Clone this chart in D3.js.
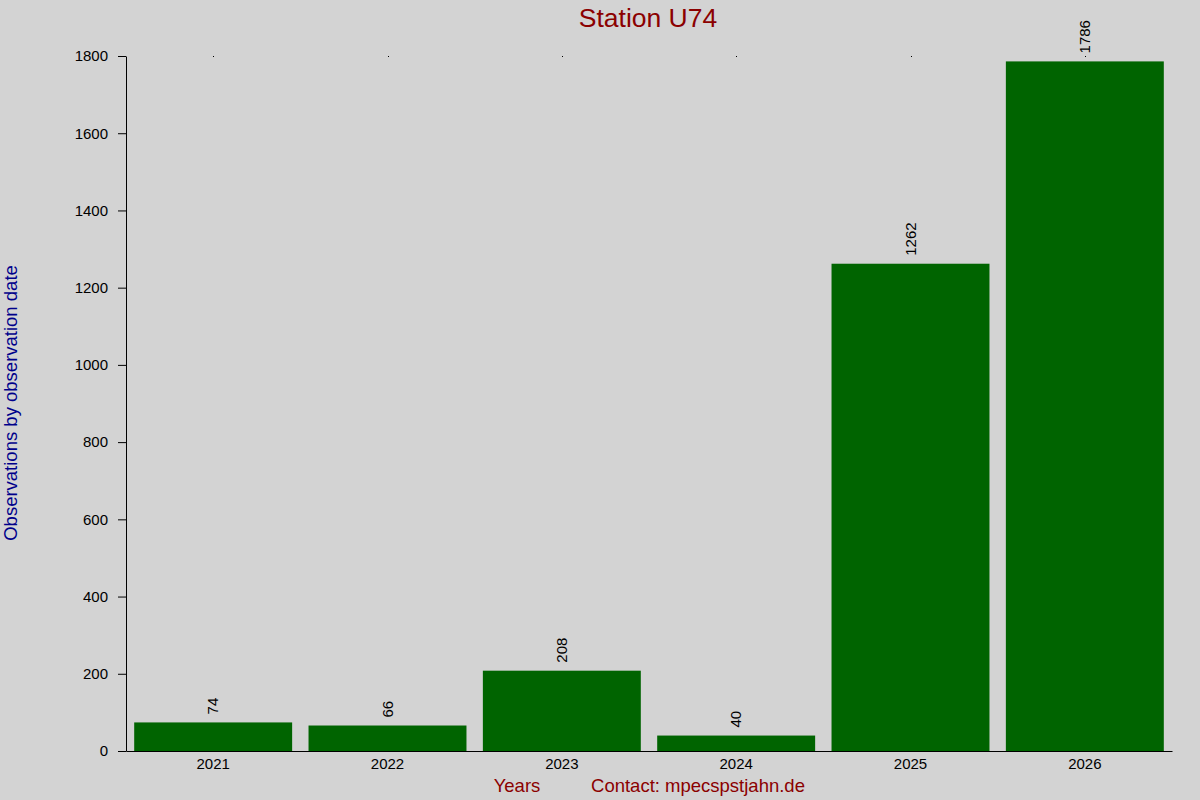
<!DOCTYPE html>
<html>
<head>
<meta charset="utf-8">
<script src="https://cdn.jsdelivr.net/npm/d3@7"></script>
<style>
    body { margin: 0; background: #d3d3d3; }
    svg { display: block; font-family: "Liberation Sans", Arial, sans-serif; }
</style>
</head>
<body>
<script>
(function () {
    "use strict";

    // chart data
    var years = ["2021", "2022", "2023", "2024", "2025", "2026"];
    var counts = [74, 66, 208, 40, 1262, 1786];
    var yTicks = [0, 200, 400, 600, 800, 1000, 1200, 1400, 1600, 1800];

    var width = 1200, height = 800;
    var margin = {top: 56, right: 28, bottom: 49, left: 126};
    var innerWidth = width - margin.left - margin.right;
    var innerHeight = height - margin.top - margin.bottom;

    var svg = d3.select("body").append("svg")
        .attr("width", width)
        .attr("height", height);

    svg.append("rect")
        .attr("width", width)
        .attr("height", height)
        .attr("fill", "#d3d3d3");

    var area = svg.append("g")
        .attr("transform", "translate(" + margin.left + "," + margin.top + ")");

    var x = d3.scaleBand()
        .domain(years)
        .range([0, innerWidth])
        .paddingInner(0.094)
        .paddingOuter(0.047);

    var y = d3.scaleLinear()
        .domain([0, 1800])
        .range([innerHeight, 0]);

    // bars
    area.selectAll("rect.bar")
        .data(years)
        .enter().append("rect")
        .attr("class", "bar")
        .attr("x", function (d) { return x(d); })
        .attr("width", x.bandwidth())
        .attr("y", function (d, i) { return y(counts[i]); })
        .attr("height", function (d, i) { return innerHeight - y(counts[i]); })
        .attr("fill", "#006400");

    // value labels, rotated
    area.selectAll("text.val")
        .data(years)
        .enter().append("text")
        .attr("class", "val")
        .attr("transform", function (d, i) {
            return "translate(" + (x(d) + x.bandwidth() / 2 + 5) + "," + (y(counts[i]) - 8) + ") rotate(-90)";
        })
        .attr("font-size", "15px")
        .attr("fill", "#000")
        .text(function (d, i) { return counts[i]; });

    // small dots along the top
    area.selectAll("rect.dot")
        .data(years)
        .enter().append("rect")
        .attr("class", "dot")
        .attr("x", function (d) { return Math.round(x(d) + x.bandwidth() / 2); })
        .attr("y", 0)
        .attr("width", 1)
        .attr("height", 1)
        .attr("fill", "#000");

    // y axis
    var yAxis = area.append("g")
        .attr("font-size", 15)
        .call(d3.axisLeft(y).tickValues(yTicks).tickFormat(d3.format("d"))
            .tickSize(8).tickPadding(10).tickSizeOuter(0));
    yAxis.attr("font-size", 15).attr("font-family", null);
    yAxis.selectAll("text").attr("fill", "#000");
    yAxis.select(".domain").attr("stroke", "#000");

    // x axis
    var xAxis = area.append("g")
        .attr("transform", "translate(0," + innerHeight + ")")
        .call(d3.axisBottom(x).tickSize(0).tickPadding(7).tickSizeOuter(0));
    xAxis.attr("font-size", 15).attr("font-family", null);
    xAxis.selectAll("text").attr("fill", "#000");
    xAxis.select(".domain").attr("stroke", "#000");

    // title and labels
    svg.append("text")
        .attr("x", 648)
        .attr("y", 27)
        .attr("text-anchor", "middle")
        .attr("font-size", "26.5px")
        .attr("fill", "#8b0000")
        .text("Station U74");

    svg.append("text")
        .attr("transform", "translate(17," + 403 + ") rotate(-90)")
        .attr("text-anchor", "middle")
        .attr("font-size", "18.5px")
        .attr("fill", "#00008b")
        .text("Observations by observation date");

    svg.append("text")
        .attr("x", 517)
        .attr("y", 792)
        .attr("text-anchor", "middle")
        .attr("font-size", "18.5px")
        .attr("fill", "#8b0000")
        .text("Years");

    svg.append("text")
        .attr("x", 698)
        .attr("y", 792)
        .attr("text-anchor", "middle")
        .attr("font-size", "18.5px")
        .attr("fill", "#8b0000")
        .text("Contact: mpecspstjahn.de");
})();
</script>
</body>
</html>
